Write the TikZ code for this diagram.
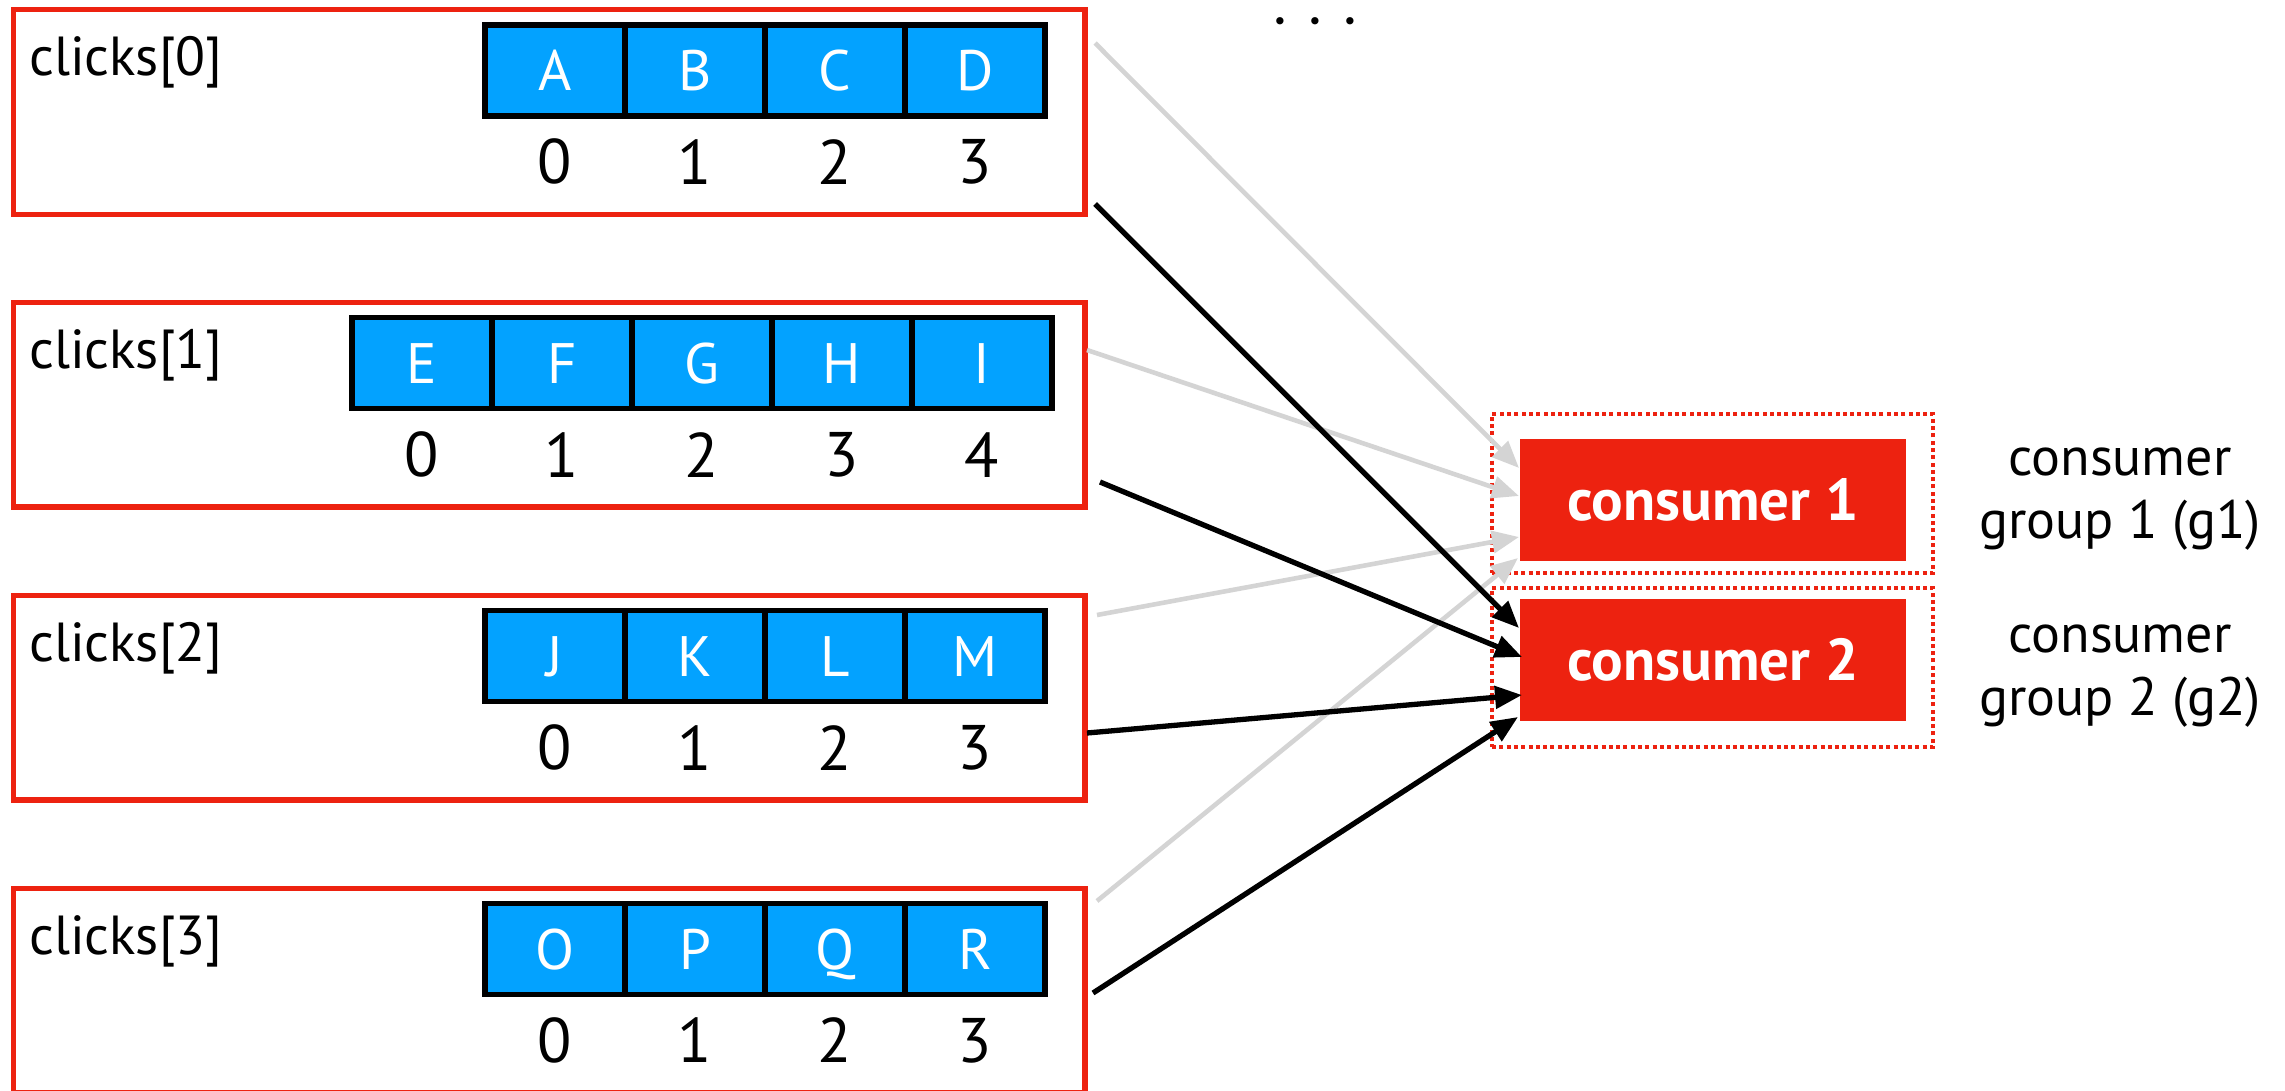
\documentclass[tikz,border=0pt]{standalone}
\usepackage{fontspec}
\setmainfont{PT Sans}
\newfontfamily\dotfont{DejaVu Sans}
\usetikzlibrary{arrows.meta,calc}
\definecolor{kred}{RGB}{237,34,16}
\definecolor{kblue}{RGB}{3,162,255}
\definecolor{kgray}{RGB}{212,212,212}
\begin{document}
\begin{tikzpicture}[x=1pt,y=-1pt,
  part/.style={draw=kred, line width=5.3pt, outer sep=0pt, inner sep=0pt, minimum width=1071.5pt, minimum height=204.4pt, anchor=north west},
  cell/.style={draw=black, fill=kblue, line width=5.5pt, outer sep=0pt, inner sep=0pt, minimum width=140pt, minimum height=91pt, text=white, font=\fontsize{57}{60}\selectfont, text height=40pt, text depth=0pt},
  idx/.style={font=\fontsize{63}{66}\selectfont, inner sep=0pt},
  lbl/.style={font=\fontsize{55}{60}\selectfont, inner sep=0pt, anchor=base west},
  cons/.style={fill=kred, minimum width=386pt, minimum height=122pt, inner sep=0pt, outer sep=0pt, text=white, font=\fontsize{59}{62}\selectfont\bfseries, text height=41pt, text depth=0pt},
  grp/.style={draw=kred, line width=4pt, dash pattern=on 4pt off 3.3pt, minimum width=441pt, minimum height=159pt, inner sep=0pt, outer sep=0pt},
  glbl/.style={font=\fontsize{54}{60}\selectfont, inner sep=0pt, anchor=base},
  gline/.style={draw=kgray, line width=4.6pt, -{Triangle[length=27pt,width=22pt]}},
  bline/.style={draw=black, line width=5.3pt, -{Triangle[length=27pt,width=22pt]}},
]
\useasboundingbox (0,0) rectangle (2285,1091);
\clip (0,0) rectangle (2285,1091);

% partitions
\node[part] (p0) at (13.5,9.8) {};
\node[part] (p1) at (13.5,302.7) {};
\node[part] (p2) at (13.5,595.6) {};
\node[part] (p3) at (13.5,888.5) {};

\node[lbl] (l0) at (29,75.8) {clicks[0]};
\node[lbl] (l1) at (29,368.7) {clicks[1]};
\node[lbl] (l2) at (29,661.6) {clicks[2]};
\node[lbl] (l3) at (29,954.5) {clicks[3]};

\foreach \t [count=\i from 0] in {A,B,C,D} {
  \node[cell] (c0\t) at (555+140*\i,70.3) {\t};
  \node[idx] (i0\i) at (555+140*\i,161.8) {\i};
}
\foreach \t [count=\i from 0] in {E,F,G,H,I} {
  \node[cell] (c1\t) at (422+140*\i,363.2) {\t};
  \node[idx] (i1\i) at (422+140*\i,454.7) {\i};
}
\foreach \t [count=\i from 0] in {J,K,L,M} {
  \node[cell] (c2\t) at (555+140*\i,656.1) {\t};
  \node[idx] (i2\i) at (555+140*\i,747.6) {\i};
}
\foreach \t [count=\i from 0] in {O,P,Q,R} {
  \node[cell] (c3\t) at (555+140*\i,949) {\t};
  \node[idx] (i3\i) at (555+140*\i,1040.5) {\i};
}

% dots
\node[font=\fontsize{25}{25}\selectfont\dotfont, inner sep=0pt, anchor=base] (dots) at (1315,30.5) {\makebox[35pt]{•}\makebox[35pt]{•}\makebox[35pt]{•}};

% consumer groups
\node[grp] (grp1) at (1712.5,493.5) {};
\node[grp] (grp2) at (1712.5,667.5) {};
\node[cons] (cons1) at (1713,500) {consumer 1};
\node[cons] (cons2) at (1713,660) {consumer 2};

\node[glbl] (g1a) at (2120,475) {consumer};
\node[glbl] (g1b) at (2120,538) {group 1 (g1)};
\node[glbl] (g2a) at (2120,652) {consumer};
\node[glbl] (g2b) at (2120,715) {group 2 (g2)};

% connector ends
\coordinate (sG0) at (1095,43);
\coordinate (sB0) at (1095,204);
\coordinate (sG1) at (1087,350);
\coordinate (sB1) at (1100,482);
\coordinate (sG2) at (1097,615);
\coordinate (sB2) at (1087,733);
\coordinate (sG3) at (1097,901);
\coordinate (sB3) at (1093,993);

\draw[gline] (sG0) -- ($(cons1.north west)+(-1,29)$);
\draw[gline] (sG1) -- ($(cons1.north west)+(-1,57)$);
\draw[gline] (sG2) -- ($(cons1.north west)+(-1,98)$);
\draw[gline] (sG3) -- ($(cons1.north west)+(-2,119)$);

\draw[bline] (sB0) -- ($(cons2.north west)+(-1,29)$);
\draw[bline] (sB1) -- ($(cons2.north west)+(2,58)$);
\draw[bline] (sB2) -- ($(cons2.north west)+(2,96)$);
\draw[bline] (sB3) -- ($(cons2.north west)+(-2,118)$);
\end{tikzpicture}
\end{document}
